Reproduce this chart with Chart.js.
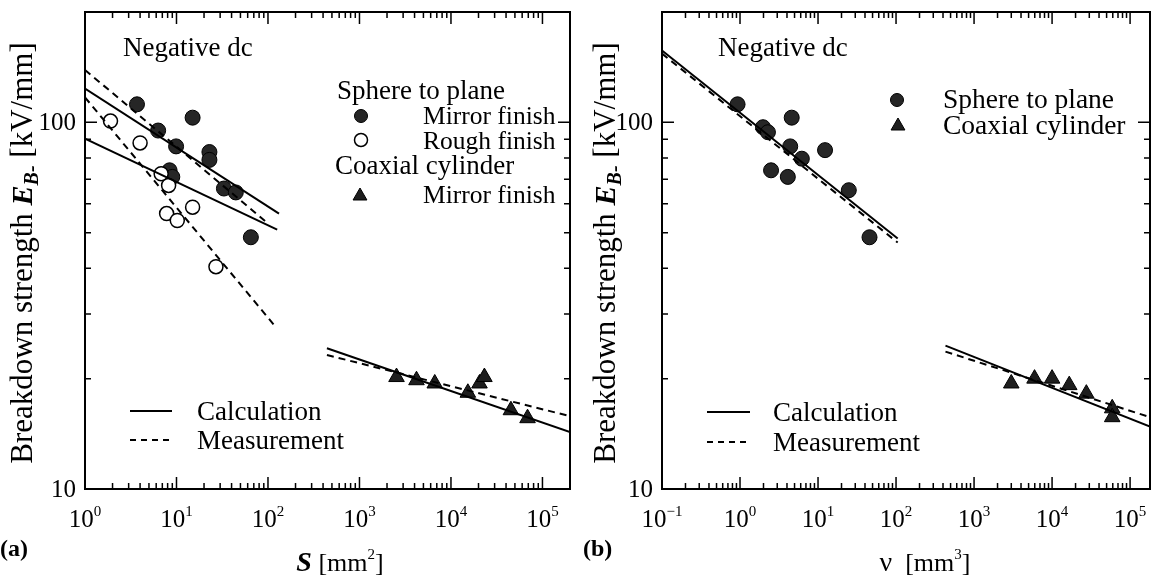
<!DOCTYPE html>
<html>
<head>
<meta charset="utf-8">
<script src="https://cdn.jsdelivr.net/npm/chart.js@4/dist/chart.umd.min.js"></script>
<style>
  html, body { margin: 0; padding: 0; background: #fff; }
  #wrap { position: relative; width: 1160px; height: 579px; }
  .panel { position: absolute; top: 0; width: 580px; height: 579px; }
</style>
</head>
<body>
<div id="wrap">
  <div class="panel" style="left:0"><canvas id="chartA"></canvas></div>
  <div class="panel" style="left:580px"><canvas id="chartB"></canvas></div>
</div>
<script>
// (a) breakdown strength E_B- [kV/mm] against electrode area S [mm^2]
const sphereMirrorS = [3.7, 6.3, 9.9, 15, 22.9, 22.9, 8.4, 9.0, 33, 44.5, 65];
const sphereMirrorE = [112, 95, 86, 103, 83, 79, 74, 71, 66, 64.4, 48.6];
const sphereRoughS = [1.9, 4.0, 6.8, 8.2, 7.8, 10.2, 15, 27];
const sphereRoughE = [100.8, 87.9, 72.4, 67.3, 56.4, 54, 58.7, 40.4];
const coaxMirrorS = [2540, 4200, 6650, 15300, 20500, 23200, 45200, 68700];
const coaxMirrorE = [20.2, 19.8, 19.4, 18.3, 19.4, 20.2, 16.4, 15.6];

// fitted lines in (a), end points
const calcUpperS = [1, 132], calcUpperE = [123.6, 56.4];
const calcLowerS = [1, 126], calcLowerE = [90.3, 51];
const measUpperS = [1, 100], measUpperE = [139, 53];
const measLowerS = [1, 121], measLowerE = [117, 27.7];
const calcCoaxS = [441, 2e5], calcCoaxE = [24.2, 14.3];
const measCoaxS = [441, 2e5], measCoaxE = [23.2, 15.8];

// (b) breakdown strength against stressed volume v [mm^3]
const sphereV = [0.93, 1.97, 2.28, 4.6, 4.4, 6.2, 12.3, 2.5, 4.1, 24.8, 45.7];
const sphereE = [112, 97, 94, 103, 86, 79.6, 84, 74, 71, 65.3, 48.6];
const coaxV = [3000, 5960, 10000, 16600, 27500, 59000, 59000];
const coaxE = [19.4, 20.0, 20.0, 19.2, 18.2, 16.6, 15.7];

const calcSphereV = [0.1, 105], calcSphereE = [157, 48.2];
const measSphereV = [0.1, 105], measSphereE = [154, 47];
const calcCoaxV = [430, 1.8e5], calcCoaxVE = [24.6, 14.8];
const measCoaxV = [430, 1.8e5], measCoaxVE = [23.7, 15.7];

const SERIF = '"Liberation Serif", "Times New Roman", serif';
const font = (size, style) => (style ? style + ' ' : '') + size + 'px ' + SERIF;
const pts = (xs, ys) => xs.map((v, i) => ({ x: v, y: ys[i] }));

const filledDot = { pointStyle: 'circle', pointRadius: 7.5, pointBackgroundColor: '#262626', pointBorderColor: '#000', pointBorderWidth: 1 };
const openDot = { pointStyle: 'circle', pointRadius: 7, pointBackgroundColor: '#fff', pointBorderColor: '#000', pointBorderWidth: 1.5 };
const triangle = { pointStyle: 'triangle', pointRadius: 9, pointBackgroundColor: '#1e1e1e', pointBorderColor: '#000', pointBorderWidth: 1 };

function lineSet(xs, ys, dashed) {
  return {
    data: pts(xs, ys), showLine: true, pointRadius: 0,
    borderColor: '#000', borderWidth: 2, borderDash: dashed ? [7, 5] : [],
  };
}
function pointSet(xs, ys, style) {
  return Object.assign({ data: pts(xs, ys), showLine: false }, style);
}

// write a run of text pieces (different fonts / offsets) one after another
function rich(ctx, parts, x, y, align) {
  let w = 0;
  parts.forEach(p => { ctx.font = p.font; p.w = ctx.measureText(p.text).width; w += p.w; });
  let cx = align === 'center' ? x - w / 2 : align === 'right' ? x - w : x;
  ctx.textAlign = 'left';
  ctx.textBaseline = 'alphabetic';
  parts.forEach(p => { ctx.font = p.font; ctx.fillText(p.text, cx, y + (p.dy || 0)); cx += p.w; });
}

function marker(ctx, kind, x, y) {
  const s = kind === 'filled' ? filledDot : kind === 'open' ? openDot : triangle;
  const r = kind === 'tri' ? 8 : 6.5;
  ctx.fillStyle = s.pointBackgroundColor;
  ctx.strokeStyle = s.pointBorderColor;
  ctx.lineWidth = s.pointBorderWidth;
  Chart.helpers.drawPoint(ctx, { pointStyle: s.pointStyle, radius: r, rotation: 0, borderWidth: s.pointBorderWidth }, x, y);
  ctx.fillStyle = '#000';
}

const decor = {
  id: 'decor',
  afterDraw(chart, args, o) {
    const { ctx, chartArea: a, scales: { x, y } } = chart;
    ctx.save();
    ctx.strokeStyle = '#000';
    ctx.fillStyle = '#000';
    ctx.setLineDash([]);

    // inward tick marks on all four sides
    ctx.lineWidth = 1.5;
    ctx.beginPath();
    for (let d = Math.floor(Math.log10(x.min)); d <= Math.ceil(Math.log10(x.max)); d++) {
      for (let m = 1; m < 10; m++) {
        const v = m * Math.pow(10, d);
        if (v <= x.min * 1.001 || v >= x.max * 0.999) continue;
        const px = x.getPixelForValue(v), len = m === 1 ? 12 : 6;
        ctx.moveTo(px, a.bottom); ctx.lineTo(px, a.bottom - len);
        ctx.moveTo(px, a.top); ctx.lineTo(px, a.top + len);
      }
    }
    for (let d = 1; d <= 2; d++) {
      for (let m = 1; m < 10; m++) {
        const v = m * Math.pow(10, d);
        if (v <= y.min * 1.001 || v >= y.max * 0.999) continue;
        const py = y.getPixelForValue(v), len = m === 1 ? 12 : 6;
        ctx.moveTo(a.left, py); ctx.lineTo(a.left + len, py);
        ctx.moveTo(a.right, py); ctx.lineTo(a.right - len, py);
      }
    }
    ctx.stroke();

    ctx.lineWidth = 2;
    ctx.strokeRect(a.left, a.top, a.right - a.left, a.bottom - a.top);

    // tick labels
    for (let d = Math.ceil(Math.log10(x.min) - 1e-9); d <= Math.floor(Math.log10(x.max)); d++) {
      const px = x.getPixelForValue(Math.pow(10, d));
      rich(ctx, [
        { text: '10', font: font(25) },
        { text: d < 0 ? '\u2212' + (-d) : String(d), font: font(15), dy: -11 }
      ], px, 527, 'center');
    }
    ctx.font = font(25);
    ctx.textAlign = 'right';
    ctx.textBaseline = 'middle';
    [10, 100].forEach(v => ctx.fillText(String(v), a.left - 9, y.getPixelForValue(v) + 1));

    // axis titles
    rich(ctx, o.xTitle, o.xTitleX, 571, 'center');
    ctx.save();
    ctx.translate(o.yTitleX, 253);
    ctx.rotate(-Math.PI / 2);
    rich(ctx, [
      { text: 'Breakdown strength ', font: font(31) },
      { text: 'E', font: font(30, 'italic bold') },
      { text: 'B-', font: font(20, 'italic bold'), dy: 6 },
      { text: ' [kV/mm]', font: font(31) }
    ], 0, 10, 'center');
    ctx.restore();
    rich(ctx, [{ text: o.tag, font: font(24, 'bold') }], o.tagX, 556, 'left');

    // annotations and keys
    rich(ctx, [{ text: 'Negative dc', font: font(27) }], o.noteX, 56, 'left');
    o.keys.forEach(k => {
      if (k.marker) marker(ctx, k.marker, k.mx, k.my);
      rich(ctx, [{ text: k.text, font: font(k.size || 27) }], k.x, k.y, 'left');
    });
    const lk = o.lineKeys;
    ctx.lineWidth = 2;
    ['Calculation', 'Measurement'].forEach((t, i) => {
      ctx.setLineDash(i ? [6, 5] : []);
      ctx.beginPath();
      ctx.moveTo(lk.x0, lk.y[i]); ctx.lineTo(lk.x1, lk.y[i]);
      ctx.stroke();
      ctx.setLineDash([]);
      rich(ctx, [{ text: t, font: font(27) }], lk.tx, lk.y[i] + 9, 'left');
    });
    ctx.restore();
  }
};

function makeChart(id, datasets, xMin, xMax, pad, decorOpts) {
  new Chart(document.getElementById(id).getContext('2d'), {
    type: 'scatter',
    data: { datasets: datasets },
    plugins: [decor],
    options: {
      responsive: true,
      maintainAspectRatio: false,
      animation: false,
      events: [],
      layout: { padding: pad },
      plugins: { legend: { display: false }, tooltip: { enabled: false }, decor: decorOpts },
      scales: {
        x: { type: 'logarithmic', min: xMin, max: xMax, display: false },
        y: { type: 'logarithmic', min: 10, max: 200, display: false }
      }
    }
  });
}

makeChart('chartA', [
  lineSet(calcUpperS, calcUpperE, false),
  lineSet(calcLowerS, calcLowerE, false),
  lineSet(measUpperS, measUpperE, true),
  lineSet(measLowerS, measLowerE, true),
  lineSet(calcCoaxS, calcCoaxE, false),
  lineSet(measCoaxS, measCoaxE, true),
  pointSet(sphereRoughS, sphereRoughE, openDot),
  pointSet(sphereMirrorS, sphereMirrorE, filledDot),
  pointSet(coaxMirrorS, coaxMirrorE, triangle)
], 1, 2e5, { left: 85, right: 7, top: 12, bottom: 90 }, {
  tag: '(a)', tagX: 0, noteX: 123, yTitleX: 22, xTitleX: 340,
  xTitle: [
    { text: 'S', font: font(28, 'italic bold') },
    { text: ' [mm', font: font(26) },
    { text: '2', font: font(15), dy: -12 },
    { text: ']', font: font(26) }
  ],
  keys: [
    { text: 'Sphere to plane', x: 337, y: 99 },
    { marker: 'filled', mx: 361, my: 116, text: 'Mirror finish', x: 423, y: 124, size: 25.5 },
    { marker: 'open', mx: 361, my: 140, text: 'Rough finish', x: 423, y: 149, size: 25.5 },
    { text: 'Coaxial cylinder', x: 335, y: 174 },
    { marker: 'tri', mx: 360, my: 196, text: 'Mirror finish', x: 423, y: 203, size: 25.5 }
  ],
  lineKeys: { x0: 130, x1: 172, tx: 197, y: [411, 440] }
});

makeChart('chartB', [
  lineSet(calcSphereV, calcSphereE, false),
  lineSet(measSphereV, measSphereE, true),
  lineSet(calcCoaxV, calcCoaxVE, false),
  lineSet(measCoaxV, measCoaxVE, true),
  pointSet(sphereV, sphereE, filledDot),
  pointSet(coaxV, coaxE, triangle)
], 0.1, 1.8e5, { left: 82, right: 6, top: 12, bottom: 90 }, {
  tag: '(b)', tagX: 3, noteX: 138, yTitleX: 25, xTitleX: 345,
  xTitle: [
    { text: '\u03BD', font: font(28) },
    { text: '  [mm', font: font(26) },
    { text: '3', font: font(15), dy: -12 },
    { text: ']', font: font(26) }
  ],
  keys: [
    { marker: 'filled', mx: 317, my: 100, text: 'Sphere to plane', x: 363, y: 108, size: 27.5 },
    { marker: 'tri', mx: 318, my: 126, text: 'Coaxial cylinder', x: 363, y: 134, size: 27.5 }
  ],
  lineKeys: { x0: 127, x1: 170, tx: 193, y: [412, 442] }
});
</script>
</body>
</html>
